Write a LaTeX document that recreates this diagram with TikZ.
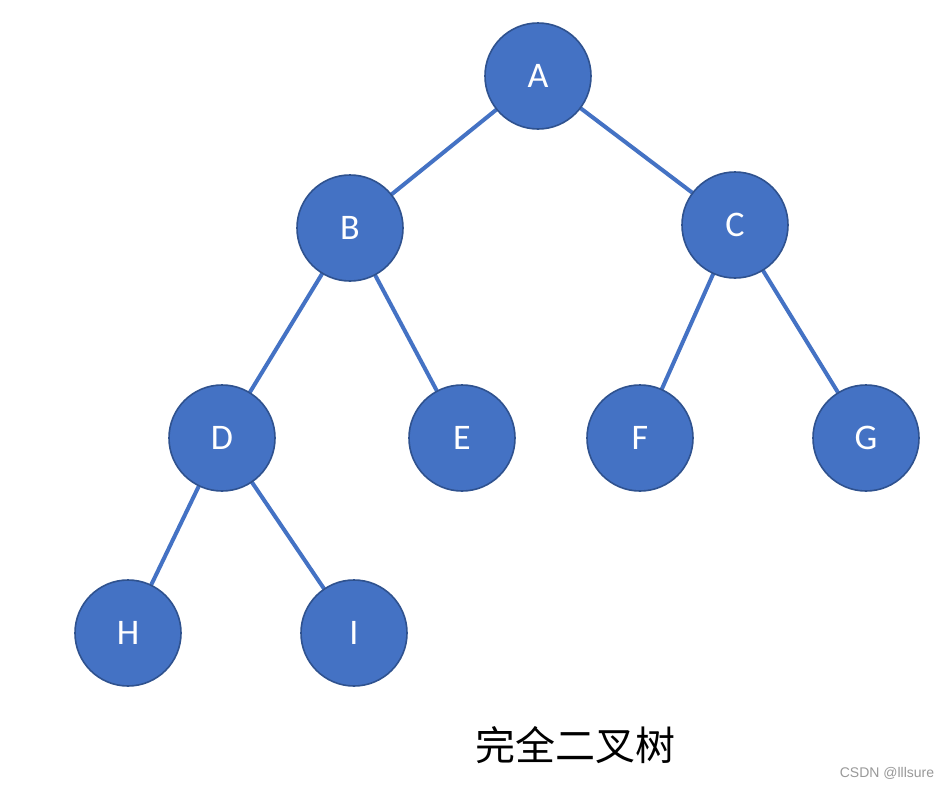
\documentclass[tikz,border=0pt]{standalone}
\usepackage{fontspec}
\setmainfont{Carlito}
\newfontfamily\cjk{Noto Sans CJK SC}
\newfontfamily\wm{Liberation Sans}
\definecolor{nodefill}{HTML}{4472C4}
\definecolor{nodeline}{HTML}{2F528F}
\begin{document}
\begin{tikzpicture}[x=0.75pt,y=-0.75pt,
  tn/.style={circle,fill=nodefill,draw=nodeline,line width=1.2pt,minimum size=79.5pt,inner sep=0pt,text=white,font=\fontsize{27}{30}\selectfont},
  ed/.style={draw=nodefill,line width=3pt}]
\useasboundingbox (0,0) rectangle (946,789);
\fill[white] (0,0) rectangle (946,789);
\coordinate (Ac) at (538,76);
\begin{scope}
\draw[ed] (538,76) -- (350,228);
\draw[ed] (538,76) -- (735,225);
\draw[ed] (350,228) -- (222,438);
\draw[ed] (350,228) -- (462,438);
\draw[ed] (735,225) -- (640,438);
\draw[ed] (735,225) -- (866,438);
\draw[ed] (222,438) -- (128,633);
\draw[ed] (222,438) -- (354,633);
\end{scope}
\node[tn] (A) at (538,76) {A};
\node[tn] (B) at (350,228) {B};
\node[tn] (C) at (735,225) {C};
\node[tn] (D) at (222,438) {D};
\node[tn] (E) at (462,438) {E};
\node[tn] (F) at (640,438) {F};
\node[tn] (G) at (866,438) {G};
\node[tn] (H) at (128,633) {H};
\node[tn] (I) at (354,633) {I};
\node[font=\cjk\fontsize{30}{34}\selectfont] (title) at (575,745) {完全二叉树};
\node[font=\wm\fontsize{10.5}{12}\selectfont,text=gray!80] (wm) at (887,773) {CSDN @lllsure};
\end{tikzpicture}
\end{document}
